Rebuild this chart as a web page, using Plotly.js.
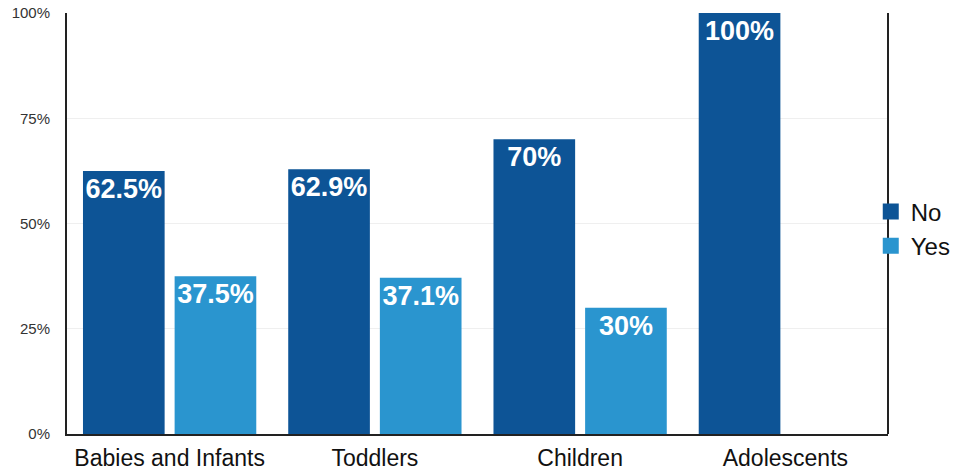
<!DOCTYPE html>
<html>
<head>
<meta charset="utf-8">
<script src="https://cdn.plot.ly/plotly-3.0.1.min.js"></script>
<style>html,body{margin:0;padding:0;background:#fff;}#chart{width:968px;height:471px;}</style>
</head>
<body>
<div id="chart"></div>
<script>
const categories = ["Babies and Infants", "Toddlers", "Children", "Adolescents"];
const noValues = [62.5, 62.9, 70, 100];
const yesValues = [37.5, 37.1, 30, null];
const seriesNames = ["No", "Yes"];
const tickValues = [0, 25, 50, 75, 100];
const tickLabels = ["0%", "25%", "50%", "75%", "100%"];

const darkBlue = "#0d5496";
const lightBlue = "#2a95cf";
const font = "Liberation Sans, Arial, Helvetica, sans-serif";

const textFont = {family: font, size: 27, color: "#ffffff", weight: "bold"};
const pct = v => (v === null ? "" : v + "%");

const traces = [
  {
    type: "bar", name: seriesNames[0], x: categories, y: noValues,
    marker: {color: darkBlue}, showlegend: false,
    text: noValues.map(pct), textposition: "inside", insidetextanchor: "end",
    textangle: 0, constraintext: "none", textfont: textFont, hoverinfo: "skip"
  },
  {
    type: "bar", name: seriesNames[1], x: categories, y: yesValues,
    marker: {color: lightBlue}, showlegend: false,
    text: yesValues.map(pct), textposition: "inside", insidetextanchor: "end",
    textangle: 0, constraintext: "none", textfont: textFont, hoverinfo: "skip"
  },
  {
    type: "scatter", mode: "markers", name: seriesNames[0], x: [null], y: [null],
    marker: {symbol: "square", size: 20, color: darkBlue}, showlegend: true
  },
  {
    type: "scatter", mode: "markers", name: seriesNames[1], x: [null], y: [null],
    marker: {symbol: "square", size: 20, color: lightBlue}, showlegend: true
  }
];

const layout = {
  width: 968, height: 471,
  margin: {l: 67, r: 77, t: 13, b: 37},
  paper_bgcolor: "#ffffff", plot_bgcolor: "#ffffff",
  barmode: "group", bargap: 0.107, bargroupgap: 0.109,
  font: {family: font, color: "#000"},
  xaxis: {
    type: "category", categoryarray: categories,
    showline: true, linecolor: "#222", linewidth: 2,
    showgrid: false, ticks: "", zeroline: false,
    tickfont: {family: font, size: 23, color: "#111"},
    ticklabelstandoff: 2, fixedrange: true
  },
  yaxis: {
    range: [0, 100], tickvals: tickValues, ticktext: tickLabels,
    showline: true, linecolor: "#222", linewidth: 2,
    showgrid: true, gridcolor: "#efefef", gridwidth: 1, zeroline: false,
    ticks: "", tickfont: {family: font, size: 15, color: "#333"},
    ticklabelstandoff: 12, fixedrange: true
  },
  shapes: [
    {type: "line", xref: "paper", yref: "paper", x0: 1, x1: 1, y0: 0, y1: 1,
     line: {color: "#222", width: 2}}
  ],
  legend: {
    x: 0.979, xanchor: "left", y: 0.487, yanchor: "middle",
    bgcolor: "rgba(0,0,0,0)", font: {family: font, size: 24, color: "#111"},
    itemclick: false, itemdoubleclick: false
  },
  showlegend: true
};

Plotly.newPlot("chart", traces, layout, {displayModeBar: false, staticPlot: true});
</script>
</body>
</html>
